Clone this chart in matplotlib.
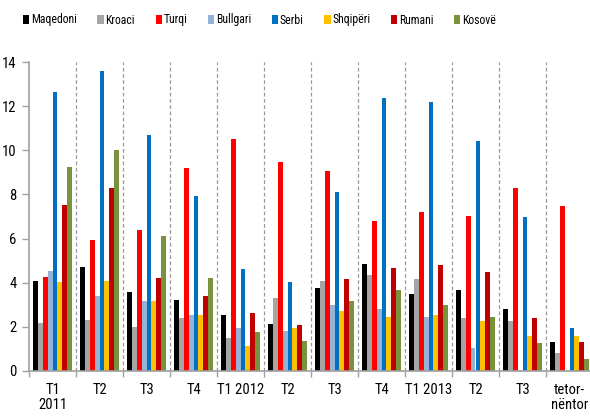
import matplotlib
matplotlib.use("Agg")
import matplotlib.pyplot as plt
from matplotlib.patches import Patch
import numpy as np

plt.rcParams['font.family'] = ['Roboto Condensed', 'DejaVu Sans']

periods = ["T1\n2011", "T2", "T3", "T4", "T1 2012", "T2", "T3", "T4",
           "T1 2013", "T2", "T3", "tetor-\nnëntor"]

countries = ["Maqedoni", "Kroaci", "Turqi", "Bullgari", "Serbi",
             "Shqipëri", "Rumani", "Kosovë"]
colors = ["#000000", "#A5A5A5", "#FF0000", "#95B3D7", "#0070C0",
          "#FFC000", "#C00000", "#77933C"]

maqedoni = [4.08, 4.73, 3.59, 3.21, 2.52, 2.14, 3.78, 4.87, 3.47, 3.66, 2.83, 1.31]
kroaci   = [2.18, 2.32, 2.00, 2.40, 1.49, 3.29, 4.10, 4.37, 4.17, 2.38, 2.25, 0.81]
turqi    = [4.28, 5.95, 6.39, 9.21, 10.52, 9.45, 9.07, 6.78, 7.22, 7.04, 8.30, 7.49]
bullgari = [4.55, 3.41, 3.15, 2.52, 1.94, 1.82, 2.97, 2.83, 2.44, 1.02, 0.05, 0.05]
serbi    = [12.63, 13.59, 10.71, 7.93, 4.63, 4.05, 8.11, 12.37, 12.19, 10.41, 6.98, 1.94]
shqiperi = [4.04, 4.10, 3.19, 2.52, 1.13, 1.94, 2.70, 2.46, 2.52, 2.25, 1.57, 1.57]
rumani   = [7.53, 8.30, 4.23, 3.41, 2.65, 2.08, 4.17, 4.67, 4.81, 4.49, 2.38, 1.31]
kosove   = [9.25, 10.02, 6.13, 4.23, 1.75, 1.37, 3.15, 3.65, 2.97, 2.46, 1.25, 0.54]

series = [maqedoni, kroaci, turqi, bullgari, serbi, shqiperi, rumani, kosove]

fig = plt.figure(figsize=(5.90, 4.16), dpi=100)
ax = fig.add_axes([29 / 590, 45 / 416, 564 / 590, 309 / 416])

x = np.arange(len(periods))
bw = 0.106
for k, (vals, c) in enumerate(zip(series, colors)):
    ax.bar(x + (k - 3.5) * bw, vals, width=bw, color=c, linewidth=0)

# dashed separators between periods
for b in np.arange(0.5, len(periods) - 1, 1.0):
    ax.axvline(b, ymin=0, ymax=1, color="#999999", linestyle=(0, (3, 2)),
               linewidth=0.9, zorder=0)

ax.set_xlim(-0.5, len(periods) - 0.5)
ax.set_ylim(0, 14)
ax.set_yticks(np.arange(0, 15, 2))
ax.tick_params(axis="y", labelsize=10.5, length=5, color="#A0A0A0",
               width=1, pad=4)

# period labels under group centres, tick marks at group boundaries
ax.set_xticks(np.arange(-0.5, len(periods), 1.0))
ax.set_xticklabels([])
ax.tick_params(axis="x", length=4, color="#A0A0A0", width=1)
for xi, lab in zip(x, periods):
    ax.text(xi, -0.55, lab, ha="center", va="top", fontsize=10.5,
            linespacing=1.1)

for side in ["top", "right"]:
    ax.spines[side].set_visible(False)
for side in ["left", "bottom"]:
    ax.spines[side].set_color("#A0A0A0")
    ax.spines[side].set_linewidth(1.2)

handles = [Patch(facecolor=c, edgecolor="none") for c in colors]
fig.legend(handles, countries, loc="center left", ncol=8,
           bbox_to_anchor=(23 / 590, 1 - 20 / 416), frameon=False,
           fontsize=8.5, handlelength=0.55, handleheight=0.85,
           handletextpad=0.12, columnspacing=1.75, borderaxespad=0,
           borderpad=0)

fig.savefig("out.png", dpi=100)
